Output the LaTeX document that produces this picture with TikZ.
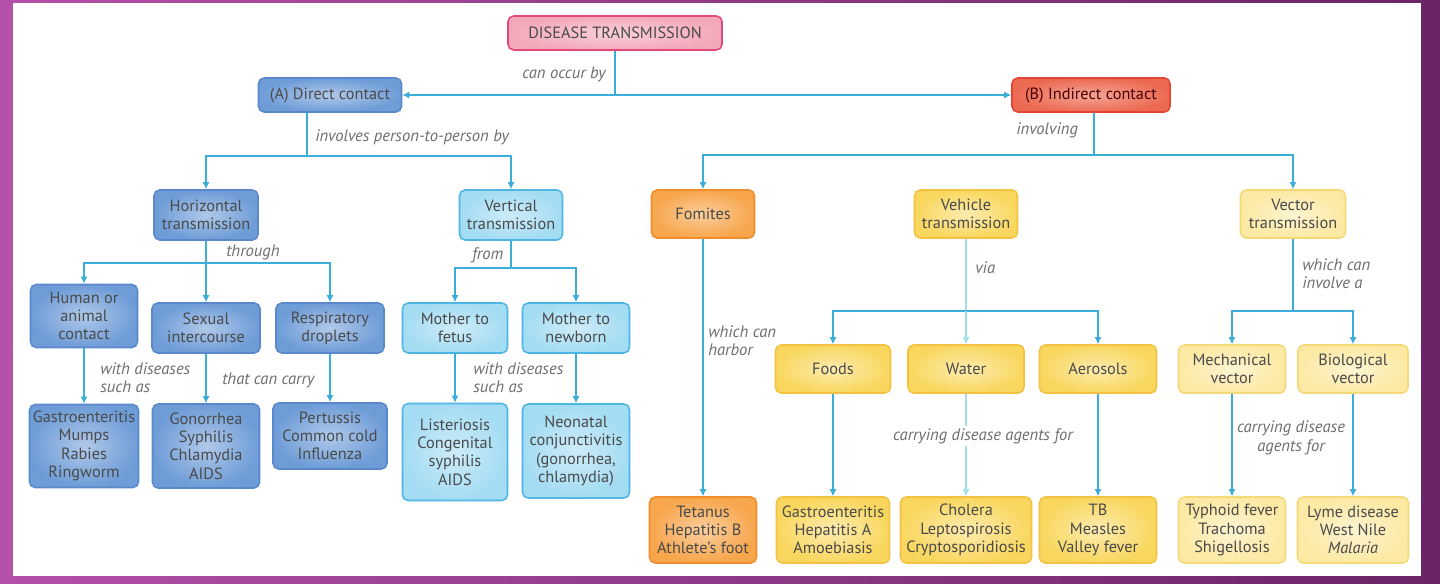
\documentclass[tikz,border=0pt]{standalone}
\usepackage{fontspec}
\setmainfont{PT Sans}
\usepackage{tikz}
\usetikzlibrary{arrows.meta,positioning,calc}

\definecolor{frameL}{HTML}{B450A8}
\definecolor{frameR}{HTML}{6A2468}
\definecolor{linkc}{HTML}{3AAED8}
\definecolor{linklight}{HTML}{A3DBEF}
\definecolor{pinkF}{HTML}{F4A9BA}
\definecolor{pinkD}{HTML}{E5477D}
\definecolor{blueF}{HTML}{6E9CD7}
\definecolor{blueD}{HTML}{5A89CB}
\definecolor{lblueF}{HTML}{A4DCF3}
\definecolor{lblueD}{HTML}{4DB6E2}
\definecolor{redF}{HTML}{EC6A52}
\definecolor{redD}{HTML}{E34434}
\definecolor{orangeF}{HTML}{F7A64C}
\definecolor{orangeD}{HTML}{F08D2C}
\definecolor{yellowF}{HTML}{F9D75E}
\definecolor{yellowD}{HTML}{F3C242}
\definecolor{paleF}{HTML}{FCE9A3}
\definecolor{paleD}{HTML}{F5D978}
\definecolor{txt}{HTML}{4A4A4A}
\definecolor{lbltxt}{HTML}{6E6E6E}

\tikzset{
  box/.style={rounded corners=4pt, line width=1.1pt, align=center, inner sep=1pt,
    text=txt, font=\fontsize{11.6}{13}\selectfont},
  wh/.style 2 args={minimum width=#1*0.025cm, minimum height=#2*0.025cm},
  pinkbox/.style={box, draw=pinkD, inner color=pinkF!55!white, outer color=pinkF},
  redbox/.style={box, draw=redD, inner color=redF!60!white, outer color=redF, text=black!70!red},
  bluebox/.style={box, draw=blueD, inner color=blueF!55!white, outer color=blueF},
  lbluebox/.style={box, draw=lblueD, inner color=lblueF!55!white, outer color=lblueF},
  orangebox/.style={box, draw=orangeD, inner color=orangeF!55!white, outer color=orangeF},
  yellowbox/.style={box, draw=yellowD, inner color=yellowF!50!white, outer color=yellowF},
  palebox/.style={box, draw=paleD, inner color=paleF!50!white, outer color=paleF},
  lbl/.style={font=\fontsize{11.8}{13}\selectfont\itshape, text=lbltxt, inner sep=0pt, align=left},
  link/.style={draw=linkc, line width=1.2pt},
  lightlink/.style={draw=linklight, line width=1pt},
  arr/.style={-{Latex[length=5pt,width=5pt]}},
}

\begin{document}
\begin{tikzpicture}[x=0.025cm, y=-0.025cm]
    \useasboundingbox (0,0) rectangle (1440,584);
    % Frame
    \fill[left color=frameL, right color=frameR] (0,0) rectangle (1440,584);
    \fill[white] (13,3) rectangle (1421,576);

    % Top level
    \node[pinkbox, wh={214}{34}] (title) at (615,33) {DISEASE TRANSMISSION};
    \node[bluebox, wh={143}{34}] (direct) at (330,95) {(A) Direct contact};
    \node[redbox, wh={158}{34}] (indirect) at (1091,95) {(B) Indirect contact};
    \draw[link,arr] (title.south) |- (direct.east);
    \draw[link,arr] (title.south) |- (indirect.west);
    \node[lbl, anchor=east] (lOccur) at (606,74) {can occur by};

    % (A) Direct contact
    \node[bluebox, wh={104}{50}] (horiz) at (206,215) {Horizontal\\transmission};
    \node[lbluebox, wh={103}{50}] (vert) at (511,215) {Vertical\\transmission};
    \coordinate (jA) at (307,156);
    \draw[link] (jA |- direct.south) -- (jA);
    \draw[link,arr] (jA) -| (horiz.north);
    \draw[link,arr] (jA) -| (vert.north);
    \node[lbl, anchor=west] (lPerson) at (315,137) {involves person-to-person by};

    % Horizontal transmission
    \node[bluebox, wh={107}{63}] (human) at (84,316) {Human or\\animal\\contact};
    \node[bluebox, wh={108}{50}] (sexual) at (206,328) {Sexual\\intercourse};
    \node[bluebox, wh={108}{50}] (resp) at (330,328) {Respiratory\\droplets};
    \coordinate (jH) at (206,263);
    \draw[link] (horiz.south) -- (jH);
    \draw[link,arr] (jH) -| (human.north);
    \draw[link,arr] (jH) -- (sexual.north);
    \draw[link,arr] (jH) -| (resp.north);
    \node[lbl, anchor=west] (lThrough) at (226,252) {through};

    \node[bluebox, wh={109}{83}] (dHuman) at (84,446) {Gastroenteritis\\Mumps\\Rabies\\Ringworm};
    \node[bluebox, wh={107}{84}] (dSexual) at (206,446) {Gonorrhea\\Syphilis\\Chlamydia\\AIDS};
    \node[bluebox, wh={114}{66}] (dResp) at (330,436) {Pertussis\\Common cold\\Influenza};
    \draw[link,arr] (human.south) -- (dHuman.north);
    \draw[link,arr] (sexual.south) -- (dSexual.north);
    \draw[link,arr] (resp.south) -- (dResp.north);
    \node[lbl, anchor=west] (lSuch1) at (100,378) {with diseases\\such as};
    \node[lbl, anchor=west] (lCarry) at (222,380) {that can carry};

    % Vertical transmission
    \node[lbluebox, wh={105}{50}] (fetus) at (455,328) {Mother to\\fetus};
    \node[lbluebox, wh={107}{50}] (newborn) at (576,328) {Mother to\\newborn};
    \coordinate (jV) at (511,268);
    \draw[link] (vert.south) -- (jV);
    \draw[link,arr] (jV) -| (fetus.north);
    \draw[link,arr] (jV) -| (newborn.north);
    \node[lbl, anchor=west] (lFrom) at (472,255) {from};

    \node[lbluebox, wh={105}{97}] (dFetus) at (455,452) {Listeriosis\\Congenital\\syphilis\\AIDS};
    \node[lbluebox, wh={107}{94}] (dNewborn) at (576,451) {Neonatal\\conjunctivitis\\(gonorrhea,\\chlamydia)};
    \draw[link,arr] (fetus.south) -- (dFetus.north);
    \draw[link,arr] (newborn.south) -- (dNewborn.north);
    \node[lbl, anchor=west] (lSuch2) at (473,378) {with diseases\\such as};

    % (B) Indirect contact
    \node[orangebox, wh={103}{48}] (fomites) at (703,214) {Fomites};
    \node[yellowbox, wh={103}{48}] (vehicle) at (966,214) {Vehicle\\transmission};
    \node[palebox, wh={105}{48}] (vector) at (1293,214) {Vector\\transmission};
    \coordinate (jB) at (1094,155);
    \draw[link] (jB |- indirect.south) -- (jB);
    \draw[link,arr] (jB) -| (fomites.north);
    \draw[link,arr] (jB) -| (vector.north);
    \node[lbl, anchor=west] (lInvolving) at (1016,130) {involving};

    % Fomites
    \node[orangebox, wh={107}{66}] (dFomites) at (703,530) {Tetanus\\Hepatitis B\\Athlete's foot};
    \draw[link,arr] (fomites.south) -- (dFomites.north);
    \node[lbl, anchor=west] (lHarbor) at (708,341) {which can\\harbor};

    % Vehicle transmission
    \node[yellowbox, wh={115}{48}] (foods) at (833,369) {Foods};
    \node[yellowbox, wh={116}{48}] (water) at (966,369) {Water};
    \node[yellowbox, wh={117}{48}] (aerosols) at (1098,369) {Aerosols};
    \coordinate (jW) at (966,311);
    \draw[lightlink] (vehicle.south) -- (jW);
    \draw[link,arr] (jW) -| (foods.north);
    \draw[link,arr] (jW) -| (aerosols.north);
    \draw[lightlink,arr] (jW) -- (water.north);
    \node[lbl, anchor=west] (lVia) at (975,268) {via};

    \node[yellowbox, wh={113}{66}] (dFoods) at (833,530) {Gastroenteritis\\Hepatitis A\\Amoebiasis};
    \node[yellowbox, wh={131}{66}] (dWater) at (966,530) {Cholera\\Leptospirosis\\Cryptosporidiosis};
    \node[yellowbox, wh={117}{66}] (dAerosols) at (1098,530) {TB\\Measles\\Valley fever};
    \draw[link,arr] (foods.south) -- (dFoods.north);
    \draw[lightlink,arr] (water.south) -- (dWater.north);
    \draw[link,arr] (aerosols.south) -- (dAerosols.north);
    \node[lbl, fill=white, inner sep=2pt] (lAgents) at (983,436) {carrying disease agents for};

    % Vector transmission
    \node[palebox, wh={107}{48}] (mech) at (1232,369) {Mechanical\\vector};
    \node[palebox, wh={110}{48}] (bio) at (1353,369) {Biological\\vector};
    \coordinate (jR) at (1293,311);
    \draw[link] (vector.south) -- (jR);
    \draw[link,arr] (jR) -| (mech.north);
    \draw[link,arr] (jR) -| (bio.north);
    \node[lbl, anchor=west] (lInvolve) at (1302,274) {which can\\involve a};

    \node[palebox, wh={107}{66}] (dMech) at (1232,530) {Typhoid fever\\Trachoma\\Shigellosis};
    \node[palebox, wh={111}{66}] (dBio) at (1353,530) {Lyme disease\\West Nile\\\textit{Malaria}};
    \draw[link,arr] (mech.south) -- (dMech.north);
    \draw[link,arr] (bio.south) -- (dBio.north);
    \node[lbl, align=center] (lAgents2) at (1291,438) {carrying disease\\agents for};
\end{tikzpicture}
\end{document}
